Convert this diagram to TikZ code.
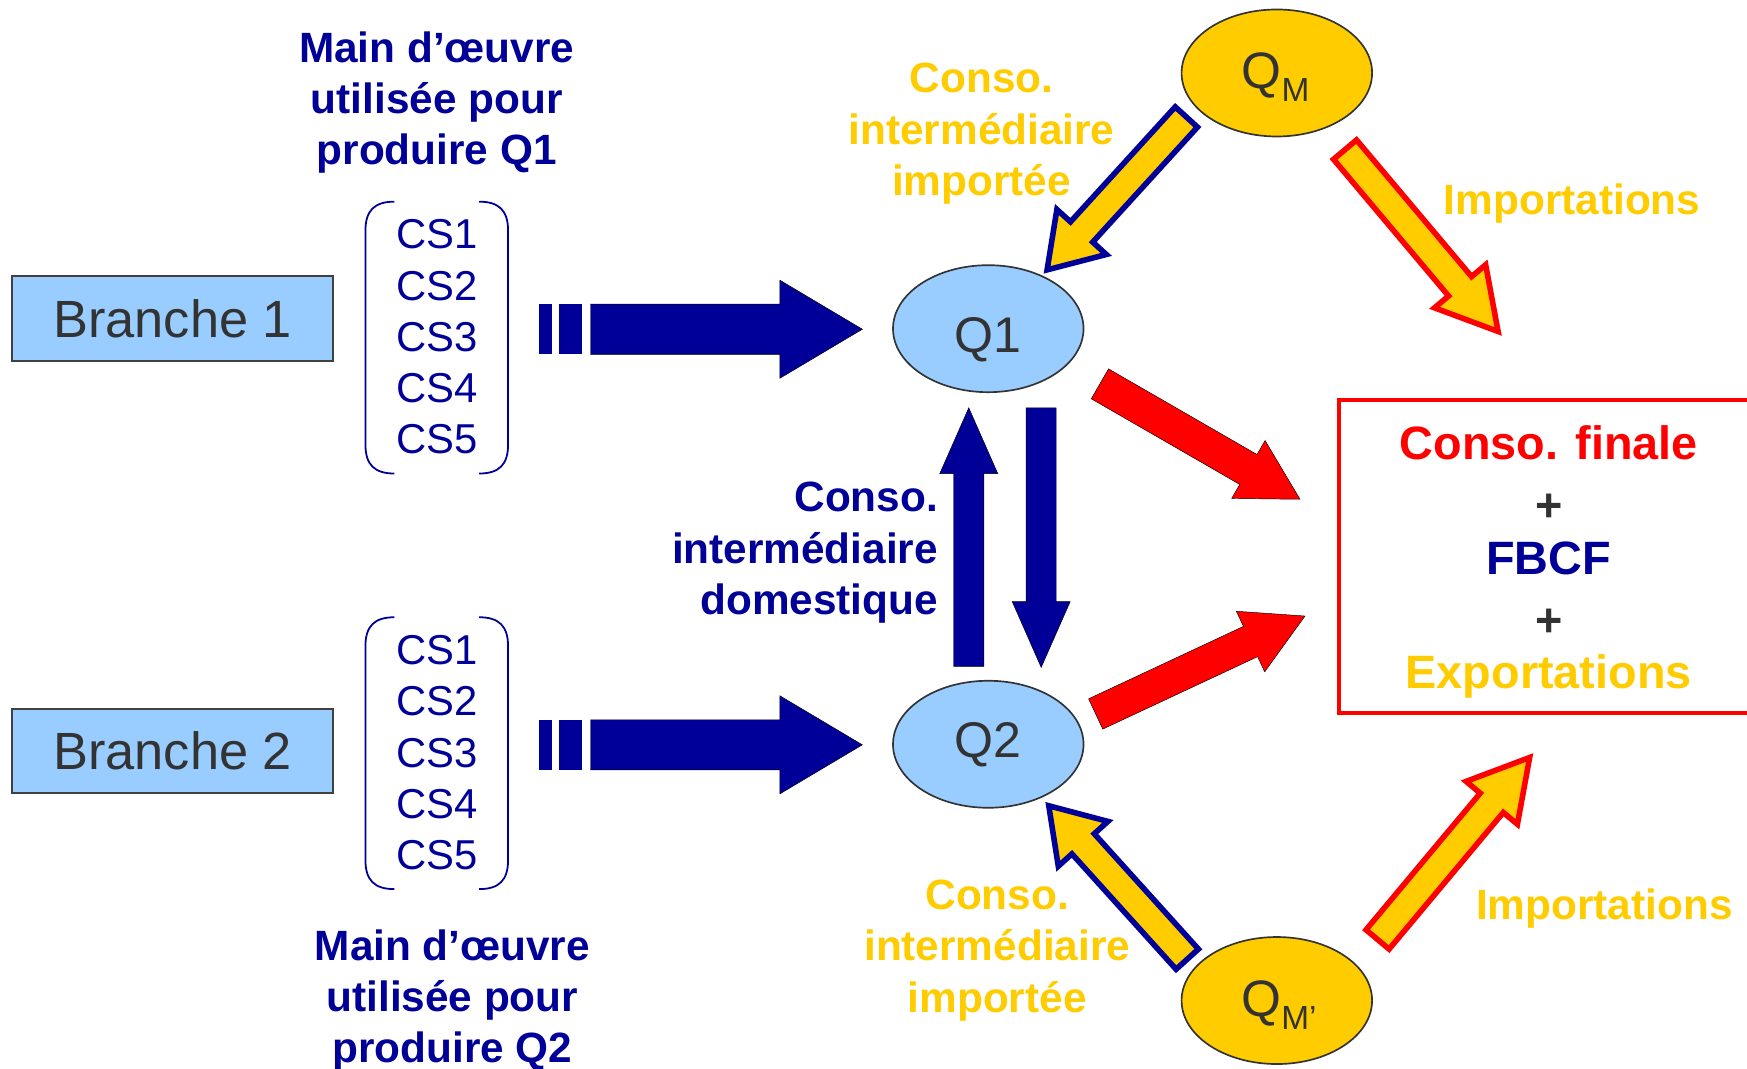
\documentclass[tikz,border=0pt]{standalone}
\usepackage{fontspec}
\setmainfont{Liberation Sans}
\usetikzlibrary{shapes.geometric,calc}

\definecolor{navy}{HTML}{000099}
\definecolor{gold}{HTML}{FFCC00}
\definecolor{sky}{HTML}{99CCFF}
\definecolor{ink}{HTML}{333333}
\definecolor{frame}{HTML}{404040}

\tikzset{
  branchbox/.style={draw=frame, line width=2pt, fill=sky, minimum width=288pt,
    minimum height=76pt, inner sep=0pt, text=ink, font=\fontsize{47}{56}\selectfont},
  cslist/.style={text=navy, align=center, inner sep=0pt, font=\fontsize{37.5}{46}\selectfont},
  paren/.style={draw=navy, line width=1.6pt},
  prodnode/.style={ellipse, draw=ink, line width=1.5pt, fill=sky, minimum width=171pt,
    minimum height=114pt, inner sep=0pt},
  impnode/.style={prodnode, fill=gold},
  qlabel/.style={text=ink, inner sep=0pt, font=\fontsize{45}{52}\selectfont},
  note/.style={align=center, inner sep=0pt, font=\bfseries\fontsize{38}{46}\selectfont},
  bluenote/.style={note, text=navy},
  goldnote/.style={note, text=gold},
  blueflow/.style={fill=navy},
  redflow/.style={fill=red},
  goldblue/.style={fill=gold, draw=navy, line width=5pt},
  goldred/.style={fill=gold, draw=red, line width=5pt},
}

% block arrow: style, tail, tip, half shaft width, half head width, head length
\newcommand\fatarrow[6]{%
  \path (#2) coordinate (fas) (#3) coordinate (fae);
  \path ($(fae)!#6!(fas)$) coordinate (fah);
  \draw[#1] ($(fas)!#4!90:(fae)$) -- ($(fah)!#4!-90:(fas)$) -- ($(fah)!#5!-90:(fas)$)
    -- (fae) -- ($(fah)!#5!90:(fas)$) -- ($(fah)!#4!90:(fas)$) -- ($(fas)!#4!-90:(fae)$) -- cycle;
}

\begin{document}
\begin{tikzpicture}[x=1pt,y=-1pt]
\clip (0,0) rectangle (1568,959);
\fill[white] (0,0) rectangle (1568,959);

% branches and their labour categories
\node[branchbox] (br1) at (155,286) {Branche 1};
\node[branchbox] (br2) at (155,674) {Branche 2};

\node[cslist] (cs1) at (392,302.5) {CS1\\CS2\\CS3\\CS4\\CS5};
\node[cslist] (cs2) at (392,675.5) {CS1\\CS2\\CS3\\CS4\\CS5};

\foreach \t in {181,554}{
  \draw[paren] (354,\t) .. controls (336,\t) and (328,\t+8) .. (328,\t+26)
    -- (328,\t+218) .. controls (328,\t+236) and (336,\t+244) .. (354,\t+244);
  \draw[paren] (430,\t) .. controls (448,\t) and (456,\t+8) .. (456,\t+26)
    -- (456,\t+218) .. controls (456,\t+236) and (448,\t+244) .. (430,\t+244);
}

\node[bluenote] (mo1) at (392,92) {Main d’œuvre\\utilisée pour\\produire Q1};
\node[bluenote] (mo2) at (406,898) {Main d’œuvre\\utilisée pour\\produire Q2};

% production and imports
\node[prodnode] (q1) at (887,295) {};
\node[prodnode] (q2) at (887,668) {};
\node[impnode] (qm) at (1146,65.5) {};
\node[impnode] (qmp) at (1146,898) {};
\node[qlabel] (q1t) at (887,305) {Q1};
\node[qlabel] (q2t) at (887,668.5) {Q2};
\node[qlabel, font=\fontsize{46}{52}\selectfont, anchor=base] (qmt) at (1145,79)
  {Q\raisebox{-12pt}{\fontsize{30}{32}\selectfont M}};
\node[qlabel, font=\fontsize{46}{52}\selectfont, anchor=base] (qmpt) at (1148,912)
  {Q\raisebox{-12pt}{\fontsize{30}{32}\selectfont M’}};

% final uses
\node[draw=red, line width=4pt, minimum width=376pt, minimum height=281pt, inner sep=0pt]
  (fin) at (1390,499.5) {};
\node[align=center, inner sep=0pt, font=\bfseries\fontsize{42}{51.5}\selectfont] (fint)
  at (1390,504.5)
  {\textcolor{red}{Conso. finale}\\\textcolor{ink}{\raisebox{-4pt}{+}}\\\textcolor{navy}{FBCF}\\
   \textcolor{ink}{\raisebox{-4pt}{+}}\\\textcolor{gold}{Exportations}};

% flow labels
\node[goldnote] (ci1) at (881,120) {Conso.\\intermédiaire\\importée};
\node[goldnote] (ci2) at (895,853) {Conso.\\intermédiaire\\importée};
\node[bluenote, align=right, anchor=east] (cid) at (842,496) {Conso.\\intermédiaire\\domestique};
\node[goldnote] (im1) at (1411,183) {Importations};
\node[goldnote] (im2) at (1440,815) {Importations};

% labour flows into production
\coordinate (l1s) at (530,295.5);  \coordinate (l1e) at (774,295.5);
\coordinate (l2s) at (530,668.5);  \coordinate (l2e) at (774,668.5);
\foreach \y in {295.5,668.5}{
  \fill[navy] (484,\y-22.5) rectangle (495,\y+22.5);
  \fill[navy] (502,\y-22.5) rectangle (522,\y+22.5);
}
\fatarrow{blueflow}{l1s}{l1e}{22.5pt}{44pt}{74pt}
\fatarrow{blueflow}{l2s}{l2e}{22.5pt}{44pt}{74pt}

% domestic intermediate consumption
\coordinate (upS) at (869.5,598);  \coordinate (upE) at (869.5,366);
\coordinate (dnS) at (934.5,366);  \coordinate (dnE) at (934.5,599);
\fatarrow{blueflow}{upS}{upE}{13.5pt}{26pt}{59pt}
\fatarrow{blueflow}{dnS}{dnE}{13.5pt}{26pt}{59pt}

% production to final uses
\coordinate (f1s) at (987.2,344.5);  \coordinate (f1e) at (1166.8,448.1);
\coordinate (f2s) at (983.4,640.8);  \coordinate (f2e) at (1171.3,552.9);
\fatarrow{redflow}{f1s}{f1e}{15.5pt}{30pt}{53.5pt}
\fatarrow{redflow}{f2s}{f2e}{15pt}{30pt}{54pt}

% imported intermediate consumption
\coordinate (m1s) at (1064.8,105.0);  \coordinate (m1e) at (939.8,242.2);
\coordinate (m2s) at (1065.6,860.9);  \coordinate (m2e) at (941.3,723.2);
\fatarrow{goldblue}{m1s}{m1e}{13.5pt}{30pt}{46pt}
\fatarrow{goldblue}{m2s}{m2e}{13.5pt}{30pt}{46pt}

% imports for final uses
\coordinate (x1s) at (1207.2,134.3);  \coordinate (x1e) at (1344.6,297.5);
\coordinate (x2s) at (1236.4,843.2);  \coordinate (x2e) at (1372.9,679.9);
\fatarrow{goldred}{x1s}{x1e}{13.5pt}{30pt}{53pt}
\fatarrow{goldred}{x2s}{x2e}{13.5pt}{30pt}{53pt}
\end{tikzpicture}
\end{document}
